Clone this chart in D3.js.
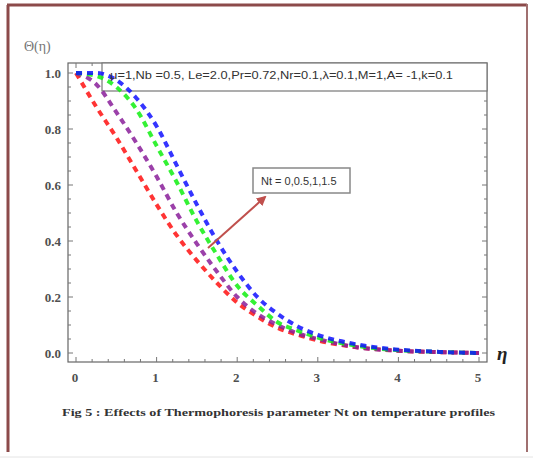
<!DOCTYPE html>
<html><head><meta charset="utf-8">
<script src="https://cdn.jsdelivr.net/npm/d3@7"></script>
<style>body{margin:0;background:#fff}svg{display:block}</style>
</head><body>
<svg id="c" width="533" height="460"></svg>
<script>
const eta = [0,0.25,0.5,0.75,1,1.25,1.5,1.75,2,2.25,2.5,2.75,3,3.5,4,4.5,5];
const thetaNt0   = [1,0.88,0.77,0.65,0.53,0.42,0.33,0.25,0.18,0.13,0.09,0.065,0.045,0.02,0.008,0.003,0];
const thetaNt05  = [1,0.96,0.86,0.75,0.63,0.50,0.39,0.29,0.20,0.14,0.10,0.07,0.05,0.02,0.008,0.003,0];
const thetaNt1   = [1,0.99,0.95,0.87,0.74,0.61,0.47,0.35,0.24,0.17,0.11,0.08,0.055,0.025,0.01,0.004,0];
const thetaNt15  = [1,1.0,0.975,0.91,0.81,0.67,0.53,0.40,0.29,0.20,0.14,0.095,0.065,0.03,0.012,0.004,0];
const seriesNames = ["Nt=0","Nt=0.5","Nt=1","Nt=1.5"];
const seriesColors = ["#ff1010","#8a1e9a","#10ee10","#1010ff"];
const xTicks = [0,1,2,3,4,5];
const yTicks = [0.0,0.2,0.4,0.6,0.8,1.0];
const legendText = "\u03bc=1,Nb =0.5, Le=2.0,Pr=0.72,Nr=0.1,\u03bb=0.1,M=1,A= -1,k=0.1";
const ntText = "Nt = 0,0.5,1,1.5";
const caption = "Fig 5  : Effects of Thermophoresis parameter  Nt on temperature profiles";

const svg = d3.select("#c");
// outer border
svg.append("line").attr("x1",8).attr("y1",5).attr("x2",8).attr("y2",452).attr("stroke","#8c4a4a").attr("stroke-width",3);
svg.append("line").attr("x1",7).attr("y1",5).attr("x2",527).attr("y2",5).attr("stroke","#8c4a4a").attr("stroke-width",3);
svg.append("line").attr("x1",527).attr("y1",4).attr("x2",527).attr("y2",452).attr("stroke","#a07070").attr("stroke-width",2);
svg.append("line").attr("x1",0).attr("y1",457).attr("x2",533).attr("y2",457).attr("stroke","#e4e4e4").attr("stroke-width",1);

const fr = {l:68, r:487, t:63, b:362};
const x = d3.scaleLinear().domain([0,5]).range([76,479]);
const y = d3.scaleLinear().domain([0,1]).range([353,73]);

// frame
svg.append("rect").attr("x",fr.l).attr("y",fr.t).attr("width",fr.r-fr.l).attr("height",fr.b-fr.t)
  .attr("fill","none").attr("stroke","#666").attr("stroke-width",1.2);

// ticks
const tk = svg.append("g").attr("stroke","#777").attr("stroke-width",1);
const xMinor = d3.range(0,5.001,0.2);
xMinor.forEach(v=>{
  const major = Math.abs(v-Math.round(v))<1e-6;
  const L = major?5:3;
  tk.append("line").attr("x1",x(v)).attr("x2",x(v)).attr("y1",fr.b).attr("y2",fr.b-L);
  tk.append("line").attr("x1",x(v)).attr("x2",x(v)).attr("y1",fr.t).attr("y2",fr.t+L);
});
const yMinor = d3.range(0,1.001,0.05);
yMinor.forEach((v,i)=>{
  const major = i%4===0;
  const L = major?5:3;
  tk.append("line").attr("y1",y(v)).attr("y2",y(v)).attr("x1",fr.l).attr("x2",fr.l+L);
  tk.append("line").attr("y1",y(v)).attr("y2",y(v)).attr("x1",fr.r).attr("x2",fr.r-L);
});

// tick labels
svg.append("g").selectAll("text").data(xTicks).join("text")
  .attr("x",d=>x(d)-1).attr("y",382).attr("text-anchor","middle")
  .attr("font-family","Liberation Serif").attr("font-weight","bold").attr("font-size",13).attr("fill","#505050")
  .text(d=>d);
svg.append("g").selectAll("text").data(yTicks).join("text")
  .attr("x",61).attr("y",d=>y(d)+4.5).attr("text-anchor","end")
  .attr("font-family","Liberation Serif").attr("font-weight","bold").attr("font-size",13).attr("fill","#505050")
  .text(d=>d.toFixed(1));

// axis labels
svg.append("text").attr("x",24).attr("y",51).attr("font-family","Liberation Serif").attr("font-size",14).attr("fill","#777").text("\u0398(\u03b7)");
svg.append("text").attr("x",497).attr("y",360).attr("font-family","Liberation Serif").attr("font-style","italic").attr("font-weight","bold").attr("font-size",19).attr("fill","#222").text("\u03b7");

// legend box
svg.append("rect").attr("x",102).attr("y",fr.t).attr("width",fr.r-102).attr("height",28)
  .attr("fill","#fff").attr("stroke","#777").attr("stroke-width",1.2);

// curves
const allSeries = [thetaNt0, thetaNt05, thetaNt1, thetaNt15];
const line = d3.line().x((d,i)=>x(eta[i])).y(d=>y(d)).curve(d3.curveMonotoneX);
svg.append("g").selectAll("path").data(allSeries).join("path")
  .attr("d",d=>line(d)).attr("fill","none")
  .attr("stroke",(d,i)=>seriesColors[i]).attr("stroke-width",4)
  .attr("stroke-dasharray","6,5").attr("opacity",0.85);

svg.append("text").attr("x",110).attr("y",79).attr("font-family","Liberation Sans").attr("font-size",11.5).attr("fill","#333")
  .attr("textLength",343).attr("lengthAdjust","spacingAndGlyphs").text(legendText);

// Nt box
svg.append("rect").attr("x",253).attr("y",168).attr("width",97).attr("height",25)
  .attr("fill","#fff").attr("stroke","#888").attr("stroke-width",1.5);
svg.append("text").attr("x",261).attr("y",185).attr("font-family","Liberation Sans").attr("font-size",11).attr("fill","#333")
  .text(ntText);

// arrow
const defs = svg.append("defs");
defs.append("marker").attr("id","ah").attr("viewBox","0 0 10 10").attr("refX",8).attr("refY",5)
  .attr("markerWidth",5).attr("markerHeight",5).attr("orient","auto")
  .append("path").attr("d","M0,0L10,5L0,10z").attr("fill","#c0504d");
svg.append("line").attr("x1",208).attr("y1",248).attr("x2",265).attr("y2",197)
  .attr("stroke","#c0504d").attr("stroke-width",2).attr("marker-end","url(#ah)");

// caption
svg.append("text").attr("x",62).attr("y",416).attr("font-family","Liberation Serif").attr("font-weight","bold").attr("font-size",10.5).attr("fill","#333")
  .attr("textLength",433).attr("lengthAdjust","spacingAndGlyphs").text(caption);
</script>
</body></html>
